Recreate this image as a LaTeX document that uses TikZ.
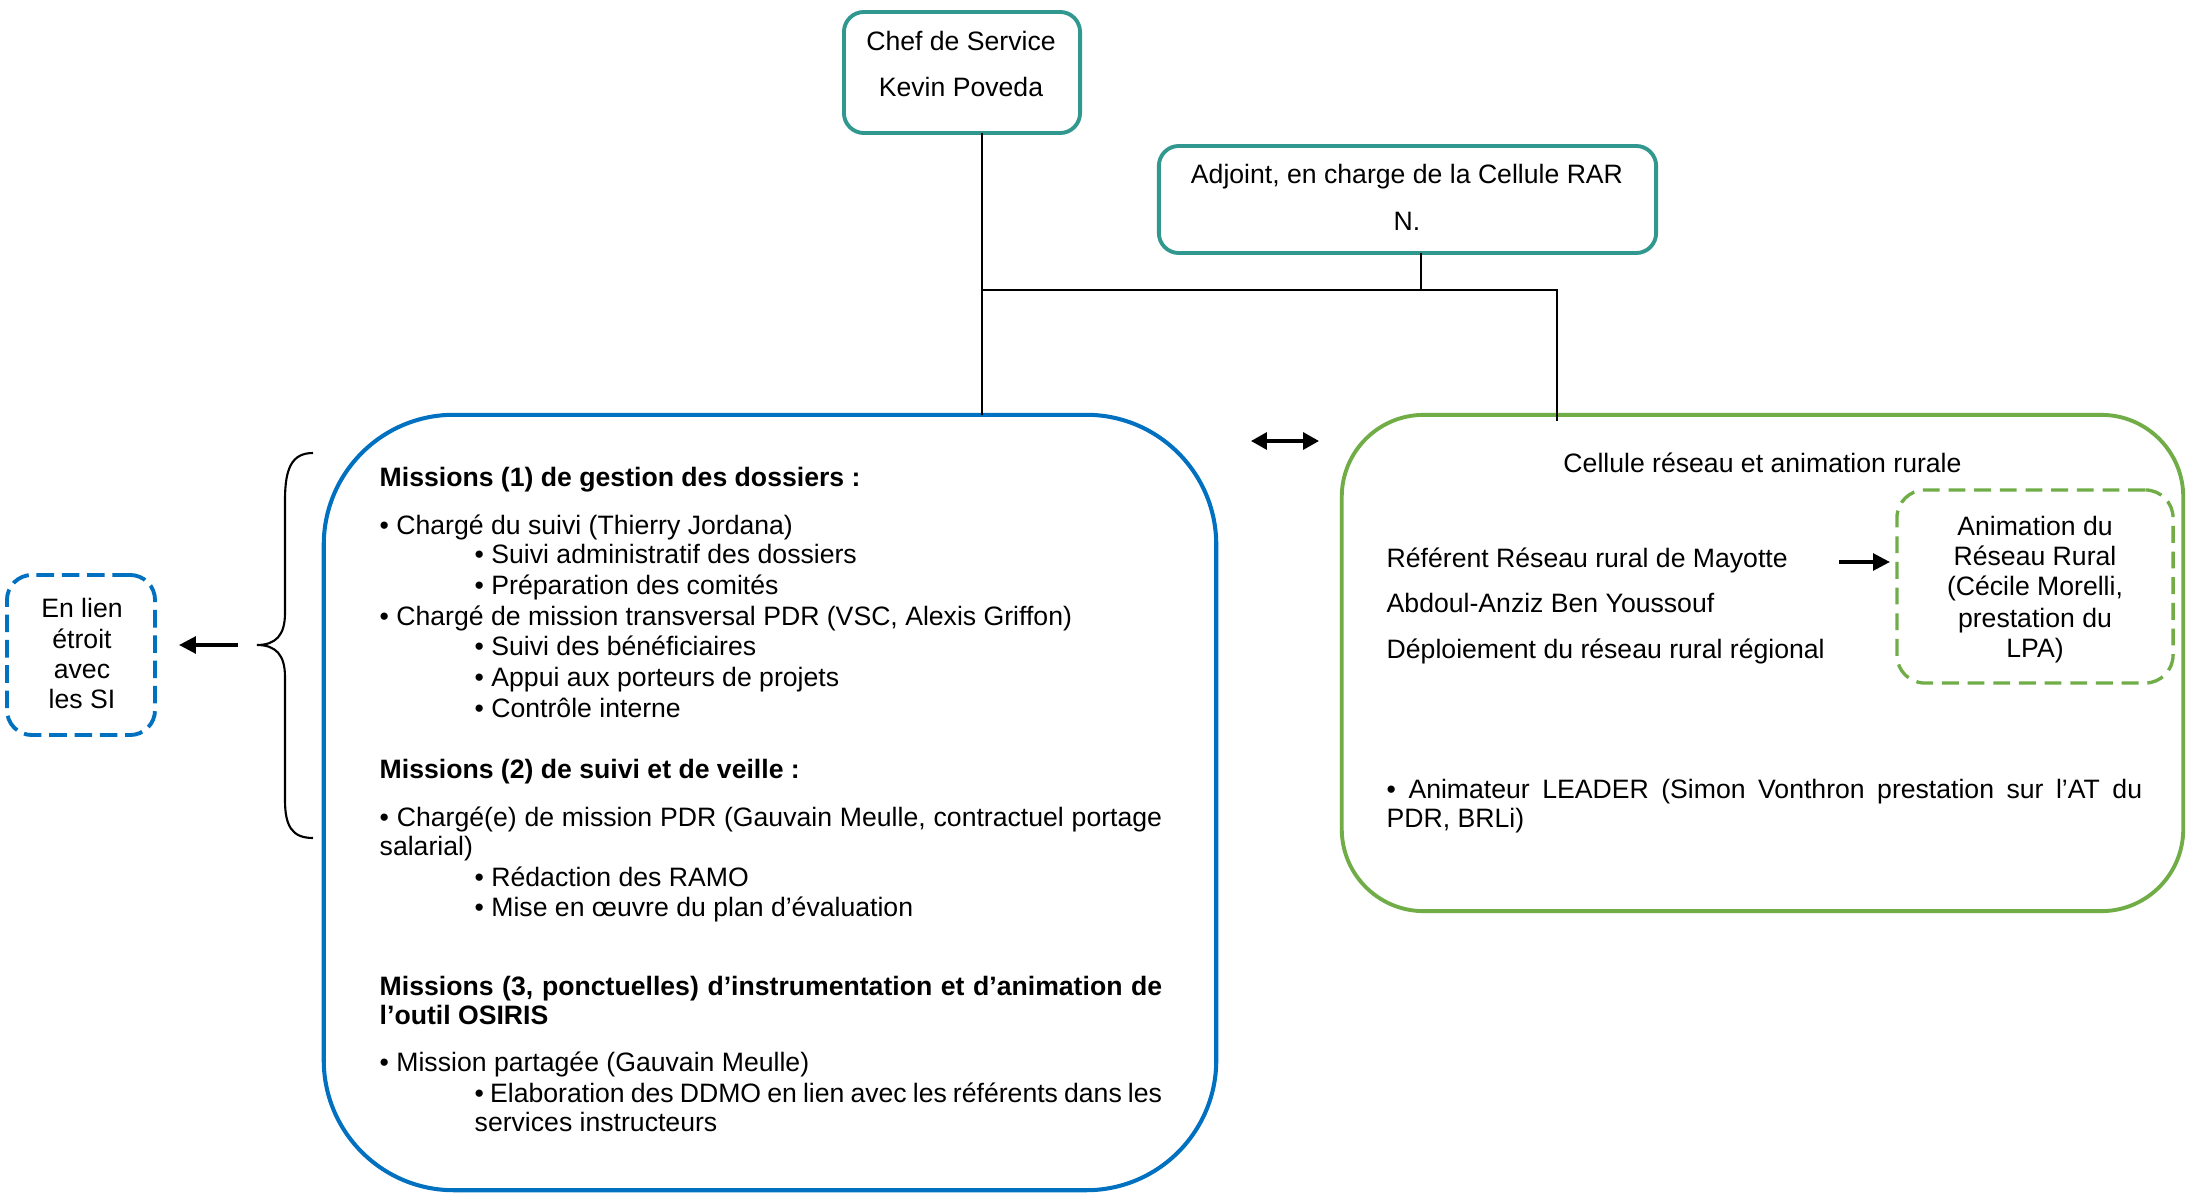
\documentclass[tikz,border=0pt]{standalone}
\usepackage{fontspec}
\setmainfont{Liberation Sans}
\usetikzlibrary{arrows.meta,calc}
\definecolor{tealbox}{RGB}{49,152,143}
\definecolor{bluebox}{RGB}{0,112,192}
\definecolor{greenbox}{RGB}{112,173,71}
\newcommand{\fsz}{\fontsize{7.57}{8.4}\selectfont}
\begin{document}
\begin{tikzpicture}[x=0.01cm,y=-0.01cm,
  shapebox/.style={draw, rectangle, inner sep=0pt, outer sep=0pt},
  topbox/.style={shapebox, draw=tealbox, line width=1.1pt, rounded corners=0.2cm},
  bigblue/.style={shapebox, draw=bluebox, line width=1.15pt, rounded corners=1.3cm},
  biggreen/.style={shapebox, draw=greenbox, line width=1.1pt, rounded corners=0.82cm},
  dashblue/.style={shapebox, draw=bluebox, line width=1.1pt, rounded corners=0.25cm, dash pattern=on 5pt off 2.2pt},
  dashgreen/.style={shapebox, draw=greenbox, line width=0.95pt, rounded corners=0.28cm, dash pattern=on 4.8pt off 2.5pt},
  txt/.style={inner sep=0pt, anchor=base west, font=\fsz},
  btxt/.style={inner sep=0pt, anchor=base west, font={\fsz\bfseries}},
  ctxt/.style={inner sep=0pt, anchor=base, font=\fsz},
  conn/.style={line width=0.6pt},
  arr/.style={line width=0.9pt, -{Triangle[length=4.8pt,width=4.8pt]}},
  darr/.style={line width=0.9pt, {Triangle[length=4.5pt,width=4.8pt]}-{Triangle[length=4.5pt,width=4.8pt]}}
]
\fill[white] (0,0) rectangle (2190,1200);
\useasboundingbox (0,0) rectangle (2190,1200);

% boxes
\node[topbox, minimum width=2.36cm, minimum height=1.21cm] (chef) at (962,72.5) {};
\node[topbox, minimum width=4.97cm, minimum height=1.07cm] (adj) at (1407.5,199.5) {};
\node[bigblue, minimum width=8.92cm, minimum height=7.75cm] (blue) at (770,802.5) {};
\node[biggreen, minimum width=8.41cm, minimum height=4.96cm] (green) at (1762.5,663) {};
\node[dashblue, minimum width=1.48cm, minimum height=1.60cm] (si) at (81,655) {};
\node[dashgreen, minimum width=2.76cm, minimum height=1.93cm] (anim) at (2035,586.5) {};

% top box texts
\node[ctxt] (chef1) at (961,51) {Chef de Service};
\node[ctxt] (chef2) at (961,97) {Kevin Poveda};
\node[ctxt] (adj1) at (1407,183) {Adjoint, en charge de la Cellule RAR};
\node[ctxt] (adj2) at (1407,230) {N.};

% connectors
\coordinate (jl) at (982,290);
\coordinate (ja) at (1421,290);
\coordinate (jr) at (1557,290);
\draw[conn] (chef.south -| jl) -- (blue.north -| jl);
\draw[conn] (adj.south -| ja) -- (ja);
\draw[conn] (jl) -- (jr) -- ($(green.north -| jr)+(0,6)$);

% blue box texts
\node[btxt] (b1) at (379,486) {Missions (1) de gestion des dossiers :};
\node[txt] (b2) at (379,534) {• Chargé du suivi (Thierry Jordana)};
\node[txt] (b3) at (474,563) {• Suivi administratif des dossiers};
\node[txt] (b4) at (474,594) {• Préparation des comités};
\node[txt] (b5) at (379,625) {• Chargé de mission transversal PDR (VSC, Alexis Griffon)};
\node[txt] (b6) at (474,655) {• Suivi des bénéficiaires};
\node[txt] (b7) at (474,686) {• Appui aux porteurs de projets};
\node[txt] (b8) at (474,717) {• Contrôle interne};
\node[btxt] (b9) at (379,778) {Missions (2) de suivi et de veille :};
\node[txt] (b10) at (379,826) {\parbox[t]{7.82cm}{• Chargé(e) de mission PDR (Gauvain Meulle, contractuel portage\linebreak salarial)}};
\node[txt] (b11) at (474,886) {• Rédaction des RAMO};
\node[txt] (b12) at (474,916) {• Mise en œuvre du plan d’évaluation};
\node[btxt] (b13) at (379,995) {\parbox[t]{7.82cm}{Missions (3, ponctuelles) d’instrumentation et d’animation de\linebreak l’outil OSIRIS}};
\node[txt] (b14) at (379,1071) {• Mission partagée (Gauvain Meulle)};
\node[txt] (b15) at (474,1102) {\parbox[t]{6.87cm}{• Elaboration des DDMO en lien avec les référents dans les\linebreak services instructeurs}};

% green box texts
\node[ctxt] (g0) at (1762.5,472) {Cellule réseau et animation rurale};
\node[txt] (g1) at (1386,567) {Référent Réseau rural de Mayotte};
\node[txt] (g2) at (1386,612) {Abdoul-Anziz Ben Youssouf};
\node[txt] (g3) at (1386,658) {Déploiement du réseau rural régional};
\node[txt] (g4) at (1386,798) {\parbox[t]{7.55cm}{• Animateur LEADER (Simon Vonthron prestation sur l’AT du\linebreak PDR, BRLi)}};

% animation box texts
\node[ctxt] (a1) at (2035,535) {Animation du};
\node[ctxt] (a2) at (2035,565) {Réseau Rural};
\node[ctxt] (a3) at (2035,595) {(Cécile Morelli,};
\node[ctxt] (a4) at (2035,627) {prestation du};
\node[ctxt] (a5) at (2035,657) {LPA)};

% SI box texts
\node[ctxt] (s1) at (82,617) {En lien};
\node[ctxt] (s2) at (82,648) {étroit};
\node[ctxt] (s3) at (82,678) {avec};
\node[ctxt] (s4) at (82,708) {les SI};

% brace
\draw[line width=0.6pt] (313,453) .. controls (292,453) and (285,468) .. (285,500)
  -- (285,613) .. controls (285,635) and (276,645) .. (257,645)
  .. controls (276,645) and (285,655) .. (285,677)
  -- (285,800) .. controls (285,826) and (292,838) .. (313,838);

% arrows
\coordinate (brstart) at (238,645);
\draw[arr, shorten >=0.24cm] (brstart) -- (si.east |- brstart);
\coordinate (da1) at (1251,441);
\coordinate (da2) at (1319,441);
\draw[darr] (da1) -- (da2);
\coordinate (ra) at (1839,562);
\draw[arr, shorten >=0.07cm] (ra) -- (ra -| anim.west);
\end{tikzpicture}
\end{document}
